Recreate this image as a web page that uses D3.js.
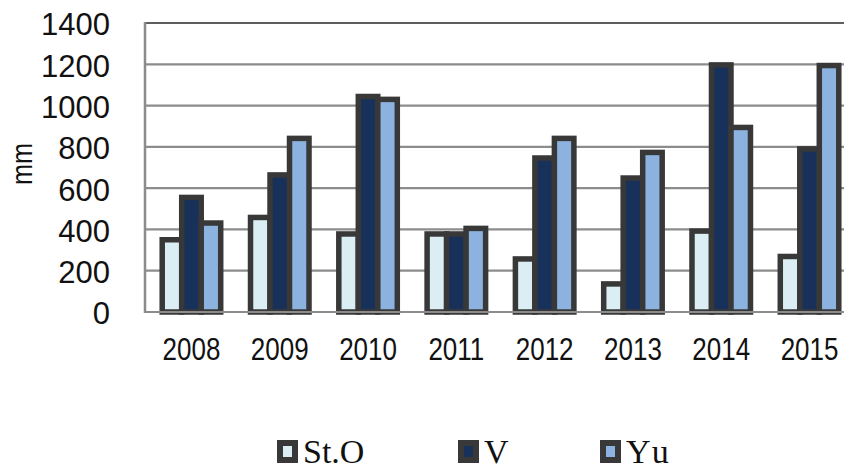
<!DOCTYPE html>
<html lang="en">
<head>
<meta charset="UTF-8">
<script src="https://d3js.org/d3.v7.min.js"></script>
<title>Rainfall by year</title>
<style>
    body { margin: 0; background: #fff; }
    svg { display: block; }
    .grid line { stroke: #8c8c8c; stroke-width: 2.2px; }
    .ylab text { font-family: "Liberation Sans", Arial, sans-serif; font-size: 31px; fill: #111; }
    .xlab text { font-family: "Liberation Sans", Arial, sans-serif; font-size: 26px; fill: #111; }
    .legend text { font-family: "Liberation Serif", "Times New Roman", serif; font-size: 34px; fill: #111; }
</style>
</head>
<body>
<svg width="844" height="472"></svg>
<script>
    // values (mm)
    var years = ["2008", "2009", "2010", "2011", "2012", "2013", "2014", "2015"];
    var series = ["St.O", "V", "Yu"];
    var stO = [350, 458, 378, 378, 257, 136, 392, 269];
    var v   = [555, 664, 1044, 378, 746, 649, 1197, 790];
    var yu  = [431, 841, 1030, 405, 841, 773, 894, 1194];
    var yTicks = [0, 200, 400, 600, 800, 1000, 1200, 1400];
    var colors = ["#daeef3", "#17315b", "#8cb2df"];

    var rows = years.map((yr, i) => ({ year: yr, vals: [stO[i], v[i], yu[i]] }));

    var svg = d3.select("svg");

    var x0 = d3.scaleBand().domain(years).range([145, 856])
        .paddingInner(0.3375).paddingOuter(0.195);
    var x1 = d3.scaleBand().domain(series).range([0, x0.bandwidth()]);
    var y = d3.scaleLinear().domain([0, 1400]).range([312, 23]);
    var color = d3.scaleOrdinal().domain(series).range(colors);

    // gridlines
    svg.append("g").attr("class", "grid")
        .selectAll("line").data(yTicks.filter(d => d > 0)).enter().append("line")
        .attr("x1", 145).attr("x2", 856)
        .attr("y1", d => y(d)).attr("y2", d => y(d))
        .style("stroke", d => d == 1400 ? "#5e5e5e" : null);

    // bars
    svg.append("g").selectAll("g").data(rows).enter().append("g")
        .attr("transform", d => `translate(${x0(d.year)},0)`)
        .selectAll("rect").data(d => d.vals.map((val, j) => ({ s: series[j], val: val })))
        .enter().append("rect")
        .attr("x", d => x1(d.s))
        .attr("width", x1.bandwidth())
        .attr("y", d => y(d.val))
        .attr("height", d => y(0) - y(d.val))
        .attr("fill", d => color(d.s))
        .attr("stroke", "#383838")
        .attr("stroke-width", 5.5);

    // axis lines
    svg.append("line").attr("x1", 145).attr("x2", 145).attr("y1", 22).attr("y2", 313)
        .attr("stroke", "#8c8c8c").attr("stroke-width", 2.5);
    svg.append("line").attr("x1", 144).attr("x2", 856).attr("y1", y(0)).attr("y2", y(0))
        .attr("stroke", "#8c8c8c").attr("stroke-width", 2.2);

    // y labels
    svg.append("g").attr("class", "ylab")
        .selectAll("text").data(yTicks).enter().append("text")
        .attr("x", 110).attr("y", d => y(d)).attr("dy", "0.4em")
        .attr("text-anchor", "end")
        .text(d => d);

    svg.append("text")
        .attr("transform", "translate(32,164) rotate(-90)")
        .attr("text-anchor", "middle")
        .attr("textLength", 42).attr("lengthAdjust", "spacingAndGlyphs")
        .style("font-family", "'Liberation Sans', Arial, sans-serif")
        .style("font-size", "30px").style("fill", "#111")
        .text("mm");

    // x labels (narrow and tall, like the original)
    svg.append("g").attr("class", "xlab")
        .selectAll("text").data(years).enter().append("text")
        .attr("transform", d => `translate(${x0(d) + x0.bandwidth() / 2},360) scale(1,1.18)`)
        .attr("text-anchor", "middle")
        .text(d => d);

    // legend
    var legX = [280, 461, 603];
    var leg = svg.append("g").attr("class", "legend")
        .selectAll("g").data(series).enter().append("g")
        .attr("transform", (d, i) => `translate(${legX[i]},443)`);
    leg.append("rect").attr("width", 15).attr("height", 17)
        .attr("fill", d => color(d)).attr("stroke", "#383838").attr("stroke-width", 6);
    leg.append("text").attr("x", 23).attr("y", 20)
        .attr("letter-spacing", d => d == "Yu" ? "5px" : null)
        .text(d => d);
</script>
</body>
</html>
